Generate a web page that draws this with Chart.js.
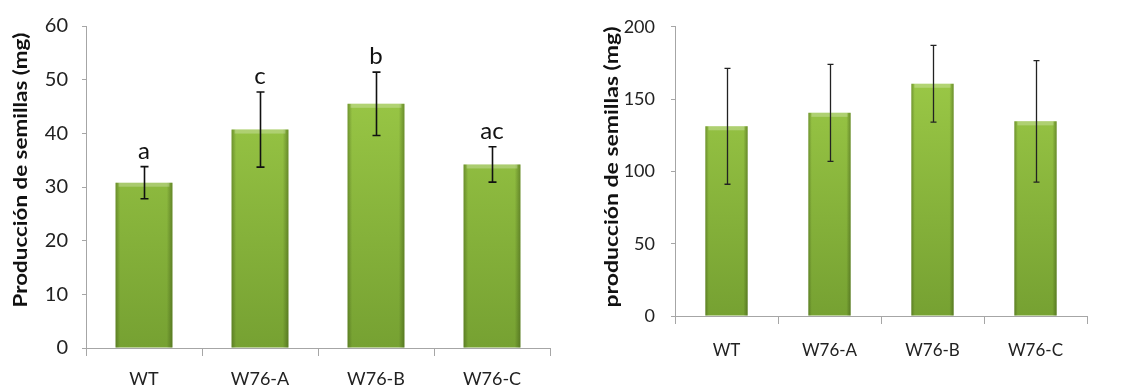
<!DOCTYPE html>
<html>
<head>
<meta charset="utf-8">
<script src="https://cdn.jsdelivr.net/npm/chart.js@4/dist/chart.umd.min.js"></script>
<style>
  body { margin: 0; background: #fff; }
  #wrap { position: relative; width: 1121px; height: 392px; }
  #seedChart { position: absolute; left: 0; top: 0; }
  #seedChart2 { position: absolute; left: 560px; top: 0; }
</style>
</head>
<body>
<div id="wrap">
  <canvas id="seedChart" width="560" height="392"></canvas>
  <canvas id="seedChart2" width="561" height="392"></canvas>
</div>
<script>
// data
const categories = ['WT', 'W76-A', 'W76-B', 'W76-C'];
const seedMg = [30.8, 40.7, 45.5, 34.2];
const seedMgErr = [3.0, 7.0, 5.9, 3.3];
const sigLetters = ['a', 'c', 'b', 'ac'];
const seedMg2 = [131.2, 140.5, 160.6, 134.6];
const seedMg2Err = [40.1, 33.5, 26.5, 42.0];
const yTicks = [0, 10, 20, 30, 40, 50, 60];
const yTicks2 = [0, 50, 100, 150, 200];

const FONT = 'Lato, "Liberation Sans", sans-serif';
const AXIS = '#a6a6a6';

function barFill(ctx) {
  const area = ctx.chart.chartArea;
  if (!area) return '#8cbb3c';
  const g = ctx.chart.ctx.createLinearGradient(0, area.top, 0, area.bottom);
  g.addColorStop(0, '#a2d04a');
  g.addColorStop(1, '#76a132');
  return g;
}

// darker sides + light top edge, like the office bevel look
const bevel = {
  id: 'bevel',
  afterDatasetsDraw(chart) {
    const c = chart.ctx;
    chart.getDatasetMeta(0).data.forEach(bar => {
      const left = bar.x - bar.width / 2, right = bar.x + bar.width / 2;
      const h = bar.base - bar.y;
      const g = c.createLinearGradient(left, 0, right, 0);
      g.addColorStop(0, 'rgba(40,60,10,0.35)');
      g.addColorStop(0.08, 'rgba(40,60,10,0.0)');
      g.addColorStop(0.9, 'rgba(40,60,10,0.0)');
      g.addColorStop(1, 'rgba(40,60,10,0.4)');
      c.save();
      c.fillStyle = g;
      c.fillRect(left, bar.y, bar.width, h);
      c.fillStyle = 'rgba(255,255,255,0.25)';
      c.fillRect(left + 3, bar.y, bar.width - 6, 4);
      c.restore();
    });
  }
};

function errorBars(errs, opts) {
  return {
    id: 'errorBars',
    afterDatasetsDraw(chart) {
      const c = chart.ctx, y = chart.scales.y;
      const vals = chart.data.datasets[0].data;
      c.save();
      c.strokeStyle = opts.color;
      c.lineWidth = opts.width;
      chart.getDatasetMeta(0).data.forEach((bar, i) => {
        const hi = y.getPixelForValue(vals[i] + errs[i]);
        const lo = y.getPixelForValue(vals[i] - errs[i]);
        const x = Math.round(bar.x) + 0.5;
        c.beginPath();
        c.moveTo(x, hi); c.lineTo(x, lo);
        c.moveTo(x - opts.cap, hi); c.lineTo(x + opts.cap, hi);
        c.moveTo(x - opts.cap, lo); c.lineTo(x + opts.cap, lo);
        c.stroke();
      });
      c.restore();
    }
  };
}

const letterLabels = {
  id: 'letterLabels',
  afterDatasetsDraw(chart) {
    const c = chart.ctx, y = chart.scales.y;
    c.save();
    c.font = '24px ' + FONT;
    c.fillStyle = '#111';
    c.textAlign = 'center';
    c.textBaseline = 'alphabetic';
    chart.getDatasetMeta(0).data.forEach((bar, i) => {
      const top = y.getPixelForValue(seedMg[i] + seedMgErr[i]);
      c.fillText(sigLetters[i], bar.x, top - 8);
    });
    c.restore();
  }
};

// the original's y title is stretched along its length, so draw it by hand
function yTitle(text, o) {
  return {
    id: 'yTitle',
    afterDraw(chart) {
      const c = chart.ctx;
      c.save();
      c.font = 'bold 18px ' + FONT;
      c.fillStyle = '#111';
      c.textAlign = 'center';
      c.textBaseline = 'middle';
      const w = c.measureText(text).width;
      c.translate(o.x, o.y);
      c.rotate(-Math.PI / 2);
      c.scale(o.len / w, 1);
      c.fillText(text, 0, 0);
      c.restore();
    }
  };
}

function makeConfig(values, ticks, o) {
  return {
    type: 'bar',
    data: {
      labels: categories,
      datasets: [{
        data: values,
        backgroundColor: barFill,
        borderWidth: 0,
        categoryPercentage: 1,
        barPercentage: o.barPct
      }]
    },
    options: {
      responsive: false,
      animation: false,
      devicePixelRatio: 1,
      layout: { padding: { top: o.top, right: o.right, left: 0, bottom: 0 } },
      plugins: { legend: { display: false }, tooltip: { enabled: false } },
      scales: {
        x: {
          offset: true,
          grid: { offset: true, drawOnChartArea: false, drawTicks: true, tickLength: 8, color: AXIS },
          border: { color: AXIS, width: 1 },
          ticks: { color: '#222', padding: o.xPad, font: { family: FONT, size: o.xSize } },
          afterFit: s => { s.height = o.xHeight; }
        },
        y: {
          min: ticks[0],
          max: ticks[ticks.length - 1],
          afterBuildTicks: s => { s.ticks = ticks.map(v => ({ value: v })); },
          grid: { drawOnChartArea: false, tickLength: 4, color: AXIS },
          border: { color: AXIS, width: 1 },
          ticks: { color: '#222', padding: o.yPad, font: { family: FONT, size: o.ySize } },
          afterFit: s => { s.width = o.yWidth; }
        }
      }
    }
  };
}

const cfg1 = makeConfig(seedMg, yTicks,
  { barPct: 0.49, top: 19, right: 10, xHeight: 44, xPad: 12, xSize: 18, yWidth: 86, yPad: 14, ySize: 20 });
cfg1.plugins = [bevel, errorBars(seedMgErr, { color: '#111', width: 1.6, cap: 4 }), letterLabels,
  yTitle('Producción de semillas (mg)', { x: 21, y: 170, len: 275 })];
new Chart(document.getElementById('seedChart'), cfg1);

const cfg2 = makeConfig(seedMg2, yTicks2,
  { barPct: 0.41, top: 18, right: 34, xHeight: 76, xPad: 16, xSize: 17, yWidth: 115, yPad: 16, ySize: 18 });
cfg2.plugins = [bevel, errorBars(seedMg2Err, { color: '#222', width: 1.3, cap: 3 }),
  yTitle('producción de semillas (mg)', { x: 52, y: 167, len: 281 })];
new Chart(document.getElementById('seedChart2'), cfg2);
</script>
</body>
</html>
